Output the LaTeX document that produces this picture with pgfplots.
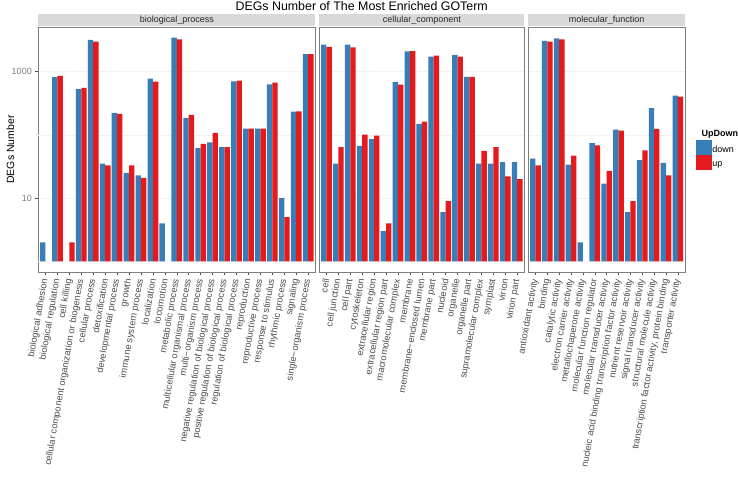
\documentclass[border=0pt]{standalone}
\usepackage{fontspec}
\setmainfont{Liberation Sans}
\usepackage{pgfplots}
\usepackage{pgfplotstable}
\pgfplotsset{compat=1.18}
\definecolor{downc}{HTML}{377EB8}
\definecolor{upc}{HTML}{E41A1C}
\definecolor{gthirty}{HTML}{4D4D4D}
\definecolor{gfifty}{HTML}{7F7F7F}
\definecolor{stripc}{HTML}{D9D9D9}
\definecolor{gridc}{HTML}{F2F2F2}

% biological_process
\pgfplotstableread{
idx down up
1 2 nan
2 816 855
3 nan 2
4 527 552
5 3170 2980
6 35 33
7 223 215
8 25 33
9 23 21
10 774 695
11 4 nan
12 3440 3250
13 186 207
14 62 72
15 76 108
16 64 64
17 705 721
18 126 126
19 126 126
20 632 670
21 10 5
22 233 235
23 1885 1885
}\bpdata
% cellular_component
\pgfplotstableread{
idx down up
1 2670 2455
2 35 64
3 2670 2430
4 67 101
5 86 97
6 3 4
7 687 624
8 2100 2120
9 149 162
10 1725 1790
11 6 9
12 1835 1725
13 825 825
14 35 56
15 35 64
16 37 22
17 37 20
}\ccdata
% molecular_function
\pgfplotstableread{
idx down up
1 42 33
2 3055 2980
3 3365 3250
4 34 47
5 2 nan
6 74 68
7 17 27
8 121 117
9 6 9
10 40 57
11 264 124
12 36 23
13 418 403
}\mfdata

\pgfplotsset{
  every axis/.append style={
    scale only axis, height=245pt, anchor=south west,
    ymin=0.68, ymax=5080,
    ybar, bar width=0.45,
    axis line style={gfifty, line width=0.7pt},
    tick align=outside, major tick length=3pt,
    tick style={gthirty, line width=0.5pt},
    xtick pos=bottom, ytick pos=left,
    yminorticks=false,
    ymajorgrids, grid style={gridc, line width=0.5pt},
    xticklabel shift=3pt,
    x tick label style={font=\fontsize{9.3}{10}\selectfont, text=gthirty, rotate=80, anchor=east, inner sep=1pt},
    y tick label style={font=\fontsize{9}{10}\selectfont, text=gfifty},
  },
}

\begin{document}
\begin{tikzpicture}
\path[use as bounding box] (0pt,0pt) rectangle (738pt,480pt);

\begin{semilogyaxis}[name=bp, at={(38.3pt,208pt)}, width=277pt,
  xmin=0.4, xmax=23.6, xtick={1,...,23},
  ytick={10,1000}, yticklabels={10,1000},
  extra y ticks={1,100}, extra y tick labels={},
  extra y tick style={major tick length=0pt},
  xticklabels={biological adhesion, biological regulation, cell killing,
    cellular component organization or biogenesis, cellular process,
    detoxification, developmental process, growth, immune system process,
    localization, locomotion, metabolic process, multicellular organismal process,
    multi−organism process, negative regulation of biological process,
    positive regulation of biological process, regulation of biological process,
    reproduction, reproductive process, response to stimulus, rhythmic process,
    signaling, single−organism process},
  ylabel={DEGs Number},
  every axis y label/.style={at={(axis description cs:-0.1011,0.5)}, rotate=90, anchor=center, font=\fontsize{10.5}{12}\selectfont},
]
\addplot[fill=downc, draw=none, bar shift=0pt] table[x expr=\thisrow{idx}-0.225, y=down] {\bpdata};
\addplot[fill=upc, draw=none, bar shift=0pt] table[x expr=\thisrow{idx}+0.225, y=up] {\bpdata};
\end{semilogyaxis}

\begin{semilogyaxis}[name=cc, at={(319.3pt,208pt)}, width=205pt,
  xmin=0.4, xmax=17.6, xtick={1,...,17},
  ytick={1,10,100,1000}, yticklabels={}, ytick style={draw=none},
  xticklabels={cell, cell junction, cell part, cytoskeleton, extracellular region,
    extracellular region part, macromolecular complex, membrane,
    membrane−enclosed lumen, membrane part, nucleoid, organelle, organelle part,
    supramolecular complex, symplast, virion, virion part},
]
\addplot[fill=downc, draw=none, bar shift=0pt] table[x expr=\thisrow{idx}-0.225, y=down] {\ccdata};
\addplot[fill=upc, draw=none, bar shift=0pt] table[x expr=\thisrow{idx}+0.225, y=up] {\ccdata};
\end{semilogyaxis}

\begin{semilogyaxis}[name=mf, at={(528.3pt,208pt)}, width=156.7pt,
  xmin=0.4, xmax=13.6, xtick={1,...,13},
  ytick={1,10,100,1000}, yticklabels={}, ytick style={draw=none},
  xticklabels={antioxidant activity, binding, catalytic activity,
    electron carrier activity, metallochaperone activity,
    molecular function regulator, molecular transducer activity,
    nucleic acid binding transcription factor activity,
    nutrient reservoir activity, signal transducer activity,
    structural molecule activity,
    {transcription factor activity, protein binding}, transporter activity},
  legend style={at={(axis description cs:1.068,0.5416)}, anchor=north west,
    draw=none, fill=none, inner sep=0pt, row sep=0pt,
    font=\fontsize{9}{10}\selectfont,
    nodes={inner sep=0pt},
    /tikz/every even column/.append style={column sep=3pt}},
  legend cell align=left,
  legend image code/.code={\fill[#1] (0pt,-4.5pt) rectangle (16.5pt,10.5pt);},
]
\addplot[fill=downc, draw=none, bar shift=0pt] table[x expr=\thisrow{idx}-0.225, y=down] {\mfdata};
\addlegendentry{down}
\addplot[fill=upc, draw=none, bar shift=0pt] table[x expr=\thisrow{idx}+0.225, y=up] {\mfdata};
\addlegendentry{up}
\end{semilogyaxis}

% facet strips
\foreach \ax/\lab in {bp/biological\_process, cc/cellular\_component, mf/molecular\_function}{
  \fill[stripc] ([yshift=1pt]\ax.north west) rectangle ([yshift=13pt]\ax.north east);
  \node[font=\fontsize{9}{10}\selectfont, text=black!85] at ([yshift=7pt]\ax.north) {\lab};
}

% title
\path (bp.north west) -- (mf.north east) node[midway, yshift=21pt, font=\fontsize{12.4}{14}\selectfont] {DEGs Number of The Most Enriched GOTerm};

% legend title
\node[anchor=base west, font=\bfseries\fontsize{9}{10}\selectfont] at ([xshift=13pt, yshift=-109.5pt]mf.north east) {UpDown};
\end{tikzpicture}
\end{document}
